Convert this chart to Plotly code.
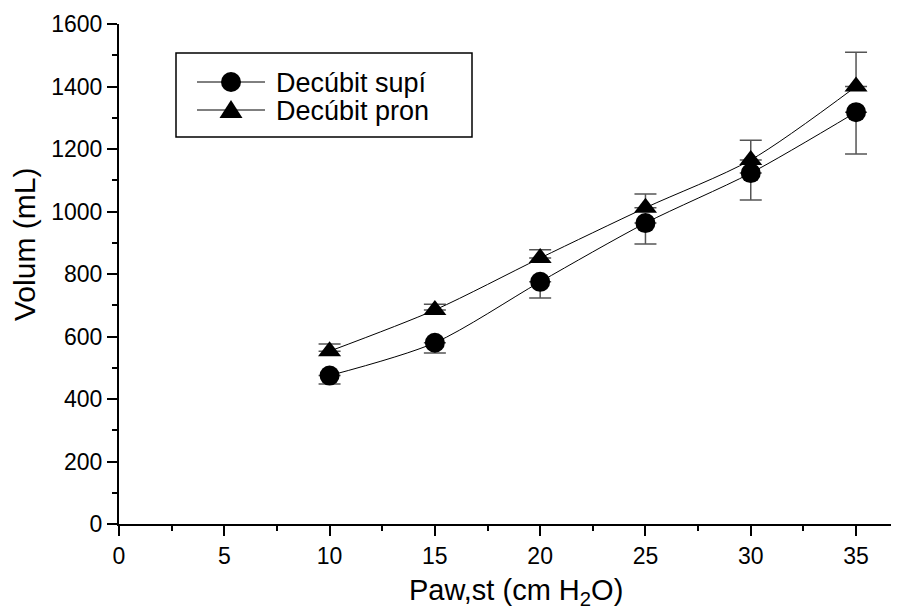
import plotly.graph_objects as go

# ---- data ----
pressure = [10, 15, 20, 25, 30, 35]
supine = [475, 580, 775, 963, 1123, 1318]
supine_err = [27, 33, 52, 67, 86, 134]
prone = [553, 685, 851, 1012, 1165, 1400]
prone_err = [23, 18, 27, 44, 63, 110]
zeros = [0, 0, 0, 0, 0, 0]

series_names = ["Decúbit supí", "Decúbit pron"]
x_title = "Paw,st (cm H<sub>2</sub>O)"
y_title = "Volum (mL)"
x_ticks = [0, 5, 10, 15, 20, 25, 30, 35]

FONT = "Liberation Sans"
OFF = 8  # browser default body margin
W, H = 899 - OFF, 614 - OFF
ML, MR, MT, MB = 119 - OFF, 0, 24 - OFF, 90
PW = W - ML - MR
PH = H - MT - MB

fig = go.Figure()

fig.add_trace(go.Scatter(
    x=pressure, y=supine, mode="lines+markers", name=series_names[0],
    line=dict(color="black", width=1, shape="spline", smoothing=0.8),
    marker=dict(symbol="circle", size=20, color="black"),
    error_y=dict(type="data", array=zeros, arrayminus=supine_err, symmetric=False,
                 color="#555555", thickness=1.5, width=11),
    showlegend=False,
))
fig.add_trace(go.Scatter(
    x=pressure, y=prone, mode="lines+markers", name=series_names[1],
    line=dict(color="black", width=1, shape="spline", smoothing=0.8),
    marker=dict(symbol="triangle-up", size=20, color="black"),
    error_y=dict(type="data", array=prone_err, arrayminus=zeros, symmetric=False,
                 color="#555555", thickness=1.5, width=11),
    showlegend=False,
))

# ---- screen pixel -> paper helpers ----
def px(xs):
    return (xs - 119) / PW

def py(ys):
    return (524 - ys) / PH

shapes = [
    dict(type="rect", xref="paper", yref="paper", x0=px(176), x1=px(472), y0=py(137), y1=py(53),
         line=dict(color="black", width=1.5), fillcolor="white", layer="below"),
]
rows = [82, 110]
for yc in rows:
    shapes.append(dict(type="line", xref="paper", yref="paper", x0=px(197), x1=px(265),
                       y0=py(yc), y1=py(yc), line=dict(color="black", width=1)))
r = 10
shapes.append(dict(type="circle", xref="paper", yref="paper",
                   x0=px(231 - r), x1=px(231 + r), y0=py(rows[0] + r), y1=py(rows[0] - r),
                   fillcolor="black", line=dict(color="black", width=0)))
tx, ty = 231, rows[1]
path = "M {:.5f},{:.5f} L {:.5f},{:.5f} L {:.5f},{:.5f} Z".format(
    px(tx - 11.5), py(ty + 8), px(tx + 11.5), py(ty + 8), px(tx), py(ty - 10))
shapes.append(dict(type="path", xref="paper", yref="paper", path=path,
                   fillcolor="black", line=dict(color="black", width=0)))

annotations = []
for i, yc in enumerate(rows):
    annotations.append(dict(x=px(274), y=py(yc + 1), xref="paper", yref="paper",
                            text=series_names[i], showarrow=False, xanchor="left", yanchor="middle",
                            font=dict(family=FONT, size=27, color="black")))
annotations.append(dict(x=px(516), y=py(592), xref="paper", yref="paper", text=x_title,
                        showarrow=False, xanchor="center", yanchor="middle",
                        font=dict(family=FONT, size=29, color="black")))
annotations.append(dict(x=px(25), y=py(245), xref="paper", yref="paper", text=y_title,
                        showarrow=False, xanchor="center", yanchor="middle", textangle=-90,
                        font=dict(family=FONT, size=30, color="black")))

fig.update_layout(
    width=W, height=H,
    margin=dict(l=ML, r=MR, t=MT, b=MB, pad=0),
    paper_bgcolor="white", plot_bgcolor="white",
    font=dict(family=FONT, color="black"),
    shapes=shapes, annotations=annotations,
    showlegend=False,
)
fig.update_xaxes(
    range=[0, 37.04], tickvals=x_ticks,
    showline=True, linecolor="black", linewidth=2, showgrid=False, zeroline=False,
    ticks="outside", ticklen=10, tickwidth=2, tickcolor="black",
    tickfont=dict(family=FONT, size=23, color="black"),
    minor=dict(ticks="outside", ticklen=5, tickwidth=2, tickcolor="black", dtick=2.5, tick0=0, showgrid=False),
)
fig.update_yaxes(
    range=[0, 1600], dtick=200, tick0=0,
    showline=True, linecolor="black", linewidth=2, showgrid=False, zeroline=False,
    ticks="outside", ticklen=10, tickwidth=2, tickcolor="black",
    tickfont=dict(family=FONT, size=23, color="black"),
    minor=dict(ticks="outside", ticklen=5, tickwidth=2, tickcolor="black", dtick=100, tick0=0, showgrid=False),
)

fig.write_html("out.html")
